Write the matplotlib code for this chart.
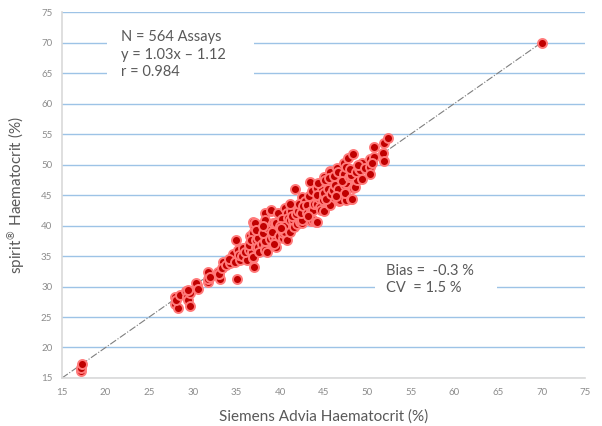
import matplotlib
matplotlib.use("Agg")
import matplotlib.pyplot as plt
from matplotlib.patches import Rectangle

plt.rcParams['font.family'] = ['Lato', 'DejaVu Sans']

# Siemens Advia (x) vs spirit (y) haematocrit
advia = [17.2, 17.2, 17.3,
         28.0, 28.0, 28.3, 28.1, 28.5, 29.2, 29.3, 29.5, 29.7, 29.7, 29.4,
         30.5, 30.5, 30.4, 30.6, 31.8, 31.8, 31.8, 32.0,
         32.9, 33.1, 33.0, 33.5, 33.4, 33.8, 34.3, 34.6, 34.2, 34.8,
         35.0, 35.1, 35.2, 35.4, 35.3, 35.6, 35.8,
         36.2, 36.6, 36.6, 36.0, 36.4, 36.8, 36.9, 36.9, 37.0, 36.9, 37.0, 36.9, 36.5, 36.7,
         37.3, 37.3, 37.5, 37.1, 37.7, 37.5, 37.9, 37.6, 37.2,
         38.3, 38.3, 38.3, 38.3, 38.3, 38.3, 38.0, 38.6, 38.8, 38.5, 38.1,
         39.0, 39.0, 39.2, 39.2, 39.4, 39.4, 39.6, 39.6, 39.6, 39.8, 39.6, 39.1, 39.9, 39.3,
         40.4, 40.4, 40.4, 40.6, 40.6, 40.8, 40.8, 40.8, 40.2, 40.0, 40.5, 40.9, 40.1,
         41.1, 41.1, 41.3, 41.5, 41.7, 41.9, 41.4, 41.8, 41.2, 41.6, 41.9,
         42.1, 42.3, 42.5, 42.5, 42.7, 42.5, 42.2, 42.8, 42.4, 42.9, 42.6,
         43.1, 43.1, 43.5, 43.6, 43.6, 43.8, 43.8, 43.8, 43.3, 43.9, 43.2, 43.7,
         44.1, 44.2, 44.2, 44.2, 44.5, 44.8, 44.3, 44.6, 44.9, 44.4, 44.7,
         45.0, 45.0, 45.0, 45.0, 45.4, 45.7, 45.7, 45.7, 45.7, 45.3, 45.5, 45.9, 45.2, 45.6,
         46.1, 46.5, 46.8, 46.9, 46.9, 46.3, 46.6, 46.2, 46.7, 46.4,
         47.3, 47.3, 47.5, 47.6, 47.6, 47.6, 47.8, 47.1, 47.9, 47.4,
         48.2, 48.2, 48.3, 48.4, 48.4, 48.6, 48.8, 48.2, 48.0, 48.7,
         49.1, 49.2, 49.4, 49.4, 49.0, 49.7,
         50.3, 50.3, 50.3, 50.8, 50.8, 50.5,
         51.8, 51.9, 51.9, 52.35,
         70.0]
spirit = [16.2, 16.7, 17.3,
          28.3, 27.2, 26.4, 27.8, 28.6, 29.2, 28.2, 27.8, 29.0, 26.8, 29.4,
          30.2, 29.7, 30.6, 29.6, 30.8, 32.4, 31.2, 31.5,
          32.4, 31.3, 32.0, 34.1, 33.0, 33.5, 33.8, 35.4, 34.5, 34.0,
          37.6, 31.3, 36.0, 34.3, 35.2, 35.0, 36.3,
          34.3, 37.1, 38.2, 35.6, 36.0, 35.7, 34.6, 40.6, 40.1, 38.7, 33.2, 34.8, 36.8, 37.6,
          36.5, 37.6, 36.5, 40.4, 39.0, 38.0, 37.0, 35.6, 39.2,
          42.0, 40.9, 38.2, 36.3, 37.4, 36.0, 38.8, 39.6, 37.8, 35.7, 39.9,
          42.4, 42.5, 40.4, 38.1, 40.4, 38.6, 39.3, 36.5, 37.6, 42.1, 40.4, 39.0, 38.2, 37.0,
          37.9, 38.7, 39.3, 42.8, 39.0, 40.5, 37.6, 42.0, 41.0, 40.0, 40.0, 41.3, 39.6,
          39.0, 40.9, 42.3, 40.9, 46.0, 43.1, 41.6, 41.9, 43.6, 39.8, 40.2,
          42.3, 40.6, 44.6, 40.4, 41.4, 40.9, 43.5, 42.8, 42.0, 44.0, 43.2,
          43.4, 42.0, 47.2, 42.3, 40.8, 44.4, 40.9, 42.5, 44.9, 43.6, 41.5, 45.6,
          40.6, 46.1, 43.6, 40.6, 44.5, 45.8, 45.0, 43.0, 44.2, 47.0, 42.6,
          45.0, 42.3, 45.3, 48.0, 46.9, 43.9, 43.4, 49.0, 48.8, 44.4, 46.0, 45.2, 47.4, 47.8,
          45.8, 49.5, 44.1, 47.5, 44.2, 46.6, 46.0, 48.2, 48.8, 44.9,
          50.3, 48.5, 46.6, 49.6, 47.0, 44.2, 51.0, 47.3, 48.0, 45.4,
          48.0, 44.3, 44.3, 51.7, 46.1, 46.3, 47.5, 48.3, 49.2, 48.8,
          49.2, 49.1, 50.3, 47.7, 50.0, 49.4,
          50.9, 49.6, 48.4, 52.8, 51.2, 50.2,
          51.9, 50.6, 53.5, 54.3,
          70.0]

ticks = [15, 20, 25, 30, 35, 40, 45, 50, 55, 60, 65, 70, 75]
identity = [15, 70]

fig = plt.figure(figsize=(6.02, 4.26), dpi=100)
ax = fig.add_axes([0.103, 0.1127, 0.869, 0.859])

ax.set_xlim(15, 75)
ax.set_ylim(15, 75)
ax.set_xticks(ticks)
ax.set_yticks(ticks)
ax.set_axisbelow(True)
ax.yaxis.grid(True, color='#9dc3e6', lw=1.0, zorder=0)
ax.xaxis.grid(False)
for s in ['top', 'right']:
    ax.spines[s].set_visible(False)
for s in ['left', 'bottom']:
    ax.spines[s].set_color('#d9d9d9')
    ax.spines[s].set_linewidth(1.2)
ax.tick_params(length=0, labelsize=7, colors='#8c8c8c', pad=7)

# white patches behind the stats text (they hide the gridlines)
ax.add_patch(Rectangle((20.2, 63.0), 16.8, 10.6, facecolor='white',
                       edgecolor='none', zorder=1))
ax.add_patch(Rectangle((50.9, 28.0), 14.0, 5.6, facecolor='white',
                       edgecolor='none', zorder=1))

ax.plot(identity, identity, color='#7f7f7f', lw=0.8, ls='-.', zorder=2)
ax.scatter(advia, spirit, s=42, facecolor='#c00000', edgecolor='#ff7a7a',
           linewidth=1.4, zorder=3)

txt = '#595959'
ax.text(21.8, 72.1, 'N = 564 Assays\ny = 1.03x \u2013 1.12\nr = 0.984',
        fontsize=10.5, color=txt, va='top', ha='left', linespacing=1.35, zorder=4)
ax.text(52.2, 33.7, 'Bias =  -0.3 %\nCV  = 1.5 %',
        fontsize=10.5, color=txt, va='top', ha='left', linespacing=1.3, zorder=4)

ax.set_xlabel('Siemens Advia Haematocrit (%)', fontsize=11, color=txt, labelpad=9)
ax.set_ylabel('spirit$^{\u00ae}$ Haematocrit (%)', fontsize=11, color=txt, labelpad=10)

fig.savefig('out.png', dpi=100)
